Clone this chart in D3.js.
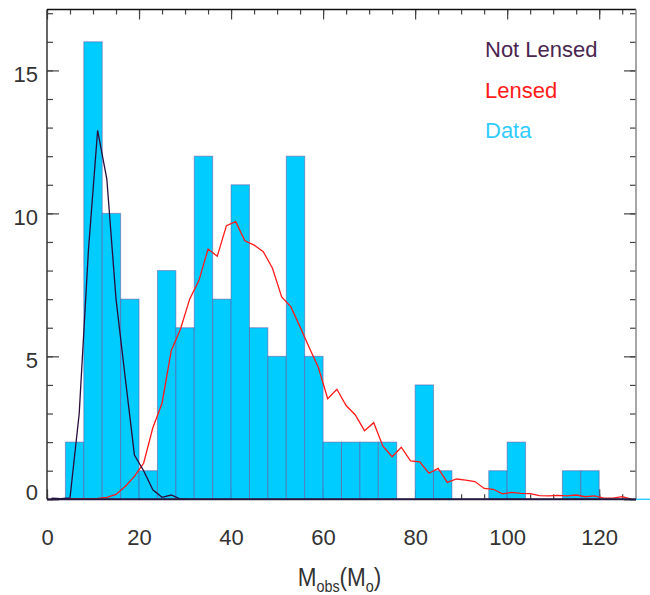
<!DOCTYPE html>
<html>
<head>
<meta charset="utf-8">
<script src="https://cdnjs.cloudflare.com/ajax/libs/d3/7.8.5/d3.min.js"></script>
<style>
  body { margin: 0; background: #fff; }
  svg { display: block; font-family: "Liberation Sans", Arial, Helvetica, sans-serif; }
</style>
</head>
<body>
<div id="chart"></div>
<script>
// histogram bins (left edges, width 4) and counts
const binEdges = [0, 4, 8, 12, 16, 20, 24, 28, 32, 36, 40, 44, 48, 52, 56, 60,
                  64, 68, 72, 76, 80, 84, 88, 92, 96, 100, 104, 108, 112, 116, 120, 124];
const counts   = [0, 2, 16, 10, 7, 1, 8, 6, 12, 7, 11, 6, 5, 12, 5, 2,
                  2, 2, 2, 0, 4, 1, 0, 0, 1, 2, 0, 0, 1, 1, 0, 0];

// model curves sampled at odd masses
const massGrid = [1, 3, 5, 7, 9, 11, 13, 15, 17, 19, 21, 23, 25, 27, 29, 31,
                  33, 35, 37, 39, 41, 43, 45, 47, 49, 51, 53, 55, 57, 59, 61, 63,
                  65, 67, 69, 71, 73, 75, 77, 79, 81, 83, 85, 87, 89, 91, 93, 95,
                  97, 99, 101, 103, 105, 107, 109, 111, 113, 115, 117, 119, 121, 123, 125, 127];
const notLensed = [0.04, 0.02, 0.05, 3.0, 8.7, 12.9, 11.2, 7.0, 4.25, 1.55, 1.0, 0.33, 0.07, 0.15, 0.01, 0,
                   0, 0, 0, 0, 0, 0, 0, 0, 0, 0, 0, 0, 0, 0, 0, 0,
                   0, 0, 0, 0, 0, 0, 0, 0, 0, 0, 0, 0, 0, 0, 0, 0,
                   0, 0, 0, 0, 0, 0, 0, 0, 0, 0, 0, 0, 0, 0, 0, 0];
const lensed = [0.02, 0.02, 0.02, 0.02, 0.02, 0.03, 0.07, 0.17, 0.45, 0.8, 1.26, 2.5, 3.36, 5.2, 5.95, 7.0,
                7.65, 8.75, 8.5, 9.57, 9.71, 9.04, 8.89, 8.66, 8.08, 7.08, 6.73, 6.03, 5.3, 4.6, 3.52, 3.85,
                3.28, 2.95, 2.4, 2.68, 1.86, 1.49, 1.82, 1.34, 1.31, 0.91, 1.08, 0.59, 0.71, 0.67, 0.62, 0.38,
                0.35, 0.19, 0.24, 0.21, 0.2, 0.13, 0.12, 0.14, 0.12, 0.15, 0.09, 0.12, 0.04, 0.04, 0.09, 0.01];

const xTicks = [0, 20, 40, 60, 80, 100, 120];
const yTicks = [0, 5, 10, 15];
const legendLabels = ['Not Lensed', 'Lensed', 'Data'];
const legendColors = ['#4a2550', '#ff1a1a', '#33ccff'];

const W = 650, H = 595;
const margin = { top: 9.5, right: 14, bottom: 95.7, left: 47 };
const width = W - margin.left - margin.right;
const height = H - margin.top - margin.bottom;

const svg = d3.select('#chart').append('svg')
    .attr('width', W)
    .attr('height', H);
const g = svg.append('g')
    .attr('transform', 'translate(' + margin.left + ',' + margin.top + ')');

const x = d3.scaleLinear().domain([0, 128]).range([0, width]);
const y = d3.scaleLinear().domain([0, 17.13]).range([height, 0]);

const minorX = d3.range(0, 129, 5);
const minorY = d3.range(0, 18, 1);

function styleAxis(sel) {
    sel.select('.domain').remove();
    sel.selectAll('.tick line').attr('stroke', '#444').attr('stroke-width', 1.2);
}

// minor ticks (inward)
g.append('g').attr('transform', 'translate(0,' + height + ')')
    .call(d3.axisBottom(x).tickValues(minorX).tickSize(-5).tickFormat(''))
    .call(styleAxis);
g.append('g')
    .call(d3.axisTop(x).tickValues(minorX).tickSize(-5).tickFormat(''))
    .call(styleAxis);
g.append('g')
    .call(d3.axisLeft(y).tickValues(minorY).tickSize(-6).tickFormat(''))
    .call(styleAxis);
g.append('g').attr('transform', 'translate(' + width + ',0)')
    .call(d3.axisRight(y).tickValues(minorY).tickSize(-6).tickFormat(''))
    .call(styleAxis);

// major ticks
const xAxisB = g.append('g').attr('transform', 'translate(0,' + height + ')')
    .call(d3.axisBottom(x).tickValues(xTicks).tickSize(-10).tickPadding(0))
    .call(styleAxis);
xAxisB.selectAll('.tick text')
    .attr('y', 46).attr('dy', 0)
    .attr('font-size', 22).attr('fill', '#333');
g.append('g')
    .call(d3.axisTop(x).tickValues(xTicks).tickSize(-10).tickFormat(''))
    .call(styleAxis);
const yAxisL = g.append('g')
    .call(d3.axisLeft(y).tickValues(yTicks).tickSize(-12))
    .call(styleAxis);
yAxisL.selectAll('.tick text')
    .attr('x', -9).attr('dy', d => d === 0 ? '0' : '0.5em')
    .attr('font-size', 22).attr('fill', '#333');
g.append('g').attr('transform', 'translate(' + width + ',0)')
    .call(d3.axisRight(y).tickValues(yTicks).tickSize(-12).tickFormat(''))
    .call(styleAxis);

// histogram bars
const bins = binEdges.map((e, i) => ({ x0: e, x1: e + 4, n: counts[i] })).filter(d => d.n > 0);
g.append('g').selectAll('rect')
    .data(bins)
    .join('rect')
    .attr('x', d => x(d.x0))
    .attr('y', d => y(d.n))
    .attr('width', d => x(d.x1) - x(d.x0))
    .attr('height', d => y(0) - y(d.n))
    .attr('fill', '#00ccff')
    .attr('stroke', '#6a4a9a')
    .attr('stroke-opacity', 0.5)
    .attr('stroke-width', 1);

// curves
const line = d3.line()
    .x(d => x(d[0]))
    .y(d => y(d[1]));

g.append('path')
    .datum(massGrid.map((m, i) => [m, lensed[i]]))
    .attr('fill', 'none')
    .attr('stroke', '#ff1a1a')
    .attr('stroke-width', 1.3)
    .attr('d', line);

g.append('path')
    .datum(massGrid.map((m, i) => [m, notLensed[i]]))
    .attr('fill', 'none')
    .attr('stroke', '#2a0c3c')
    .attr('stroke-width', 1.3)
    .attr('d', line);

// frame
g.append('line').attr('x1', 0).attr('x2', 0).attr('y1', 0).attr('y2', height)
    .attr('stroke', '#333').attr('stroke-width', 1.5);
g.append('line').attr('x1', 0).attr('x2', width).attr('y1', 0).attr('y2', 0)
    .attr('stroke', '#111').attr('stroke-width', 1.5);
g.append('line').attr('x1', width).attr('x2', width).attr('y1', 0).attr('y2', height)
    .attr('stroke', '#888').attr('stroke-width', 1.5);
g.append('line').attr('x1', 0).attr('x2', width).attr('y1', height).attr('y2', height)
    .attr('stroke', '#241a40').attr('stroke-width', 2);
g.append('line').attr('x1', width).attr('x2', W - margin.left).attr('y1', height).attr('y2', height)
    .attr('stroke', '#33ccff').attr('stroke-width', 1.5);

// legend
g.append('g').selectAll('text')
    .data(legendLabels)
    .join('text')
    .attr('x', 438)
    .attr('y', (d, i) => 47.5 + i * 40.5)
    .attr('font-size', 22)
    .attr('fill', (d, i) => legendColors[i])
    .text(d => d);

// x axis title
const title = svg.append('g')
    .attr('transform', 'translate(' + (margin.left + width / 2 - 2) + ',' + 586 + ') scale(0.9,1)');
const tt = title.append('text')
    .attr('text-anchor', 'middle')
    .attr('font-size', 25)
    .attr('fill', '#333');
tt.append('tspan').text('M');
tt.append('tspan').attr('font-size', 16).attr('dy', 6).text('obs');
tt.append('tspan').attr('dy', -6).text('(M');
tt.append('tspan').attr('font-size', 16).attr('dy', 6).text('o');
tt.append('tspan').attr('dy', -6).text(')');
</script>
</body>
</html>
